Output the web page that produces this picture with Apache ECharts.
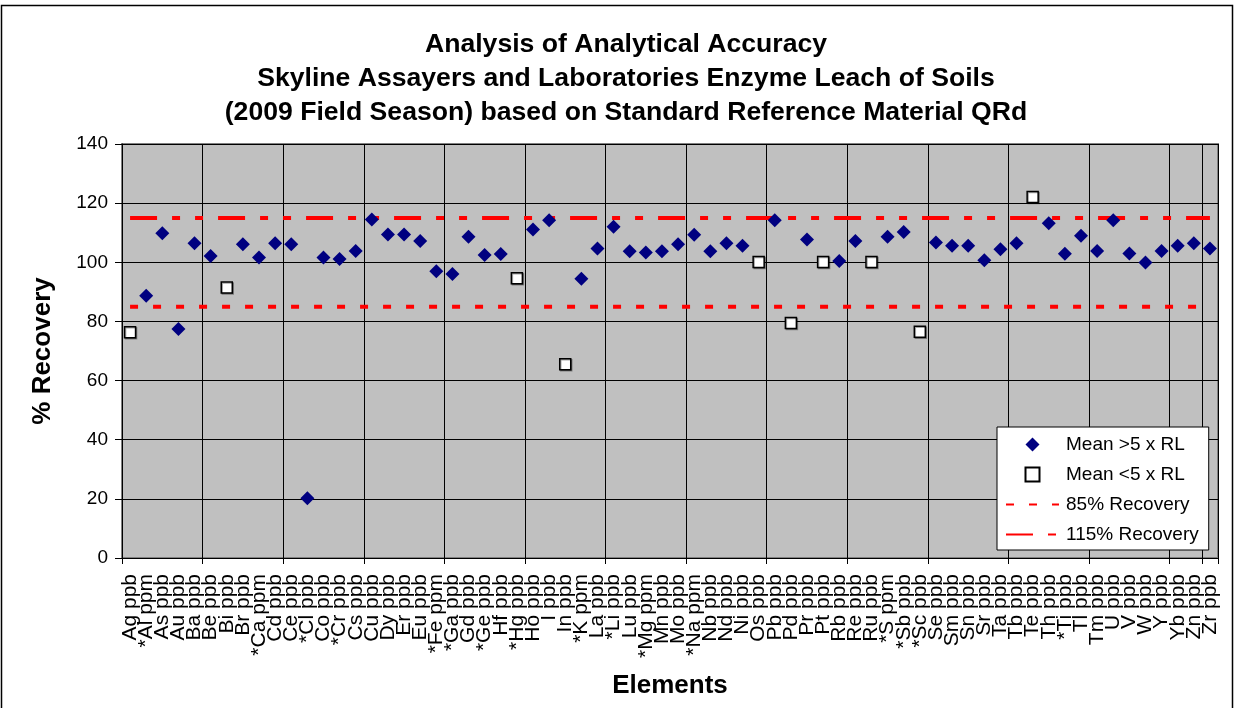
<!DOCTYPE html>
<html>
<head>
<meta charset="utf-8">
<script src="https://cdn.jsdelivr.net/npm/echarts@6/dist/echarts.min.js"></script>
<style>
html,body{margin:0;padding:0;background:#fff;}
#c{width:1238px;height:708px;}
</style>
</head>
<body>
<div id="c"></div>
<script>
const categories = ["Ag ppb","*Al ppm","As ppb","Au ppb","Ba ppb","Be ppb","Bi ppb","Br ppb","*Ca ppm","Cd ppb",
"Ce ppb","*Cl ppb","Co ppb","*Cr ppb","Cs ppb","Cu ppb","Dy ppb","Er ppb","Eu ppb","*Fe ppm",
"*Ga ppb","Gd ppb","*Ge ppb","Hf ppb","*Hg ppb","Ho ppb","I ppb","In ppb","*K ppm","La ppb",
"*Li ppb","Lu ppb","*Mg ppm","Mn ppb","Mo ppb","*Na ppm","Nb ppb","Nd ppb","Ni ppb","Os ppb",
"Pb ppb","Pd ppb","Pr ppb","Pt ppb","Rb ppb","Re ppb","Ru ppb","*S ppm","*Sb ppb","*Sc ppb",
"Se ppb","Sm ppb","Sn ppb","Sr ppb","Ta ppb","Tb ppb","Te ppb","Th ppb","*Ti ppb","Tl ppb",
"Tm ppb","U ppb","V ppb","W ppb","Y ppb","Yb ppb","Zn ppb","Zr ppb"];

// Mean > 5 x RL (diamonds); null where the element is in the other group
const meanAboveRL = [null,88.7,109.8,77.4,106.4,102.1,null,106.1,101.6,106.4,
106.1,20.2,101.6,101.1,103.8,114.5,109.4,109.4,107.2,97.0,
96.0,108.6,102.5,102.8,null,111.1,114.2,null,94.4,104.7,
112.0,103.7,103.3,103.7,106.1,109.3,103.7,106.4,105.6,null,
114.2,null,107.7,null,100.4,107.2,null,108.6,110.2,null,
106.7,105.6,105.6,100.7,104.4,106.4,null,113.2,102.9,109.0,
103.8,114.2,103.0,99.9,103.8,105.6,106.4,104.7];

// Mean < 5 x RL (open squares)
const meanBelowRL = [76.3,null,null,null,null,null,91.5,null,null,null,
null,null,null,null,null,null,null,null,null,null,
null,null,null,null,94.6,null,null,65.5,null,null,
null,null,null,null,null,null,null,null,null,100.1,
null,79.5,null,100.1,null,null,100.1,null,null,76.5,
null,null,null,null,null,null,122.1,null,null,null,
null,null,null,null,null,null,null,null];

const recoveryLow = 85;
const recoveryHigh = 115;
const yTicks = {min: 0, max: 140, interval: 20};

const chart = echarts.init(document.getElementById('c'), null, {renderer: 'canvas'});
const FONT = 'Liberation Sans, Arial, sans-serif';
const first = categories[0], last = categories[categories.length - 1];
const DIAMOND_ICON = 'path://M7,0L14,7L7,14L0,7Z';
const SQUARE_ICON = 'path://M1,1L13,1L13,13L1,13Z';

chart.setOption({
  backgroundColor: '#ffffff',
  animation: false,
  title: {
    text: 'Analysis of Analytical Accuracy\nSkyline Assayers and Laboratories Enzyme Leach of Soils\n(2009 Field Season) based on Standard Reference Material QRd',
    left: 626,
    textAlign: 'center',
    top: 28,
    padding: 0,
    textStyle: {fontFamily: FONT, fontSize: 26.6, fontWeight: 'bold', color: '#000', lineHeight: 34}
  },
  graphic: [{
    type: 'rect', silent: true, z: -1,
    shape: {x: 1.5, y: 5.5, width: 1231, height: 720},
    style: {fill: null, stroke: '#000', lineWidth: 1.5}
  }],
  grid: {
    left: 122, right: 20, top: 144, bottom: 150,
    show: true, backgroundColor: '#c0c0c0', borderColor: '#808080', borderWidth: 2
  },
  legend: {
    orient: 'vertical',
    left: 997, top: 427,
    width: 200,
    padding: [8, 10, 6, 8],
    itemWidth: 53, itemHeight: 14, itemGap: 11,
    symbolKeepAspect: true,
    backgroundColor: '#ffffff', borderColor: '#000', borderWidth: 1,
    textStyle: {fontFamily: FONT, fontSize: 19, color: '#000', padding: [0, 0, 0, 2]},
    data: [
      {name: 'Mean >5 x RL', icon: DIAMOND_ICON},
      {name: 'Mean <5 x RL', icon: SQUARE_ICON},
      {name: '85% Recovery'},
      {name: '115% Recovery'}
    ]
  },
  xAxis: {
    type: 'category',
    data: categories,
    boundaryGap: true,
    name: 'Elements',
    nameLocation: 'middle',
    nameGap: 115,
    nameTextStyle: {fontFamily: FONT, fontSize: 26, fontWeight: 'bold', color: '#000'},
    axisLine: {lineStyle: {color: '#000', width: 1}},
    axisTick: {show: true, interval: 4, length: 6, lineStyle: {color: '#000'}},
    axisLabel: {interval: 0, rotate: 90, fontFamily: FONT, fontSize: 21, color: '#000', margin: 16},
    splitLine: {show: true, interval: 4, lineStyle: {color: '#000', width: 1}}
  },
  yAxis: {
    type: 'value',
    min: yTicks.min, max: yTicks.max, interval: yTicks.interval,
    name: '% Recovery',
    nameLocation: 'middle',
    nameGap: 66,
    nameTextStyle: {fontFamily: FONT, fontSize: 26, fontWeight: 'bold', color: '#000'},
    axisLine: {show: true, lineStyle: {color: '#000', width: 1}},
    axisTick: {show: true, length: 7, lineStyle: {color: '#000'}},
    axisLabel: {fontFamily: FONT, fontSize: 19, color: '#000', margin: 14},
    splitLine: {show: true, lineStyle: {color: '#000', width: 1}}
  },
  series: [
    {
      name: '85% Recovery', type: 'line', symbol: 'none', z: 3,
      data: [[first, recoveryLow], [last, recoveryLow]],
      lineStyle: {color: '#ff0000', width: 4, type: [8, 15], cap: 'butt'},
      itemStyle: {color: 'rgba(0,0,0,0)', opacity: 0}
    },
    {
      name: '115% Recovery', type: 'line', symbol: 'none', z: 3,
      data: [[first, recoveryHigh], [last, recoveryHigh]],
      lineStyle: {color: '#ff0000', width: 4, type: [27, 15, 8, 15, 8, 15], cap: 'butt'},
      itemStyle: {color: 'rgba(0,0,0,0)', opacity: 0}
    },
    {
      name: 'Mean >5 x RL', type: 'scatter', symbol: 'diamond', symbolSize: 14, z: 4,
      data: meanAboveRL,
      itemStyle: {color: '#000080', opacity: 1}
    },
    {
      name: 'Mean <5 x RL', type: 'scatter', symbol: 'rect', symbolSize: 11, z: 4,
      data: meanBelowRL,
      itemStyle: {color: '#ffffff', borderColor: '#000', borderWidth: 1.5, opacity: 1,
        shadowColor: 'rgba(0,0,0,0.35)', shadowBlur: 0, shadowOffsetX: 1, shadowOffsetY: 1}
    }
  ]
});
</script>
</body>
</html>
